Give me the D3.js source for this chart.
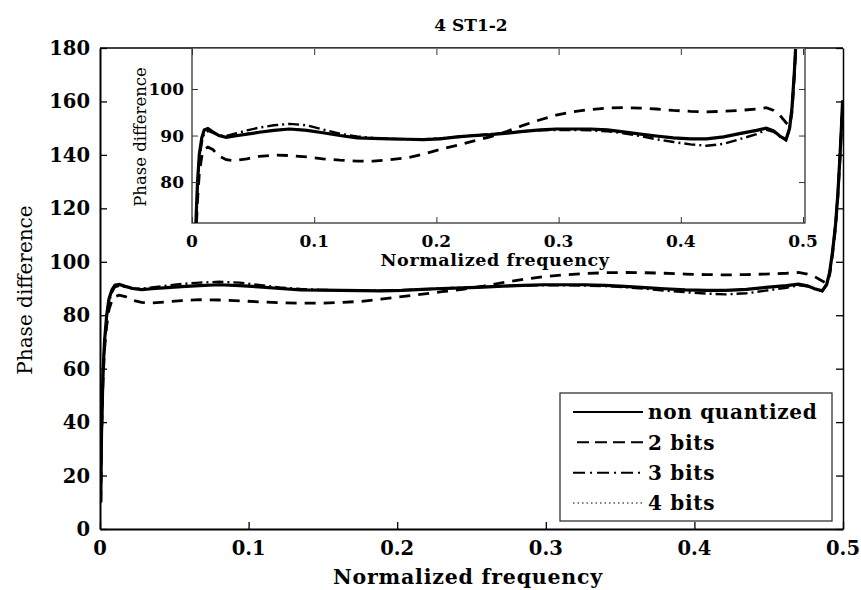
<!doctype html>
<head>
  <meta charset="utf-8">
  <title>4 ST1-2 phase difference</title>
  <script src="https://d3js.org/d3.v7.min.js"></script>
  <style>
    body { margin: 0; background: #fff; }
    text { font-family: "DejaVu Serif", serif; fill: #000; }
    .tick-label { font-weight: bold; }
  </style>
</head>
<body>
<div id="chart"></div>
<script>
// normalized frequency sample points
var freq = [0.0005, 0.001, 0.002, 0.003, 0.0045, 0.006, 0.008, 0.010, 0.013, 0.017,
  0.022, 0.028, 0.035, 0.045, 0.055, 0.067, 0.08, 0.094, 0.107, 0.121,
  0.135, 0.148, 0.162, 0.176, 0.189, 0.203, 0.217, 0.230, 0.244, 0.258,
  0.271, 0.285, 0.298, 0.312, 0.326, 0.340, 0.353, 0.367, 0.380, 0.394,
  0.408, 0.421, 0.435, 0.448, 0.462, 0.470, 0.476, 0.481, 0.486, 0.489,
  0.491, 0.493, 0.495, 0.4965, 0.498, 0.499, 0.4997];

var nonQuantized = [10, 35, 58, 70, 80, 86, 89.5, 91.2, 91.5, 90.8,
  90.0, 89.6, 89.9, 90.3, 90.7, 91.1, 91.4, 91.1, 90.6, 90.0,
  89.5, 89.4, 89.3, 89.2, 89.1, 89.3, 89.7, 90.0, 90.2, 90.5,
  90.9, 91.2, 91.4, 91.4, 91.4, 91.2, 90.8, 90.3, 89.9, 89.5,
  89.3, 89.3, 89.7, 90.4, 91.1, 91.6, 91.0, 89.9, 89.1, 91.5,
  96, 104, 114, 125, 140, 151, 160];

var bits2 = [10, 33, 55, 67, 76, 82, 85.5, 87.0, 87.5, 87.0,
  85.6, 84.8, 84.6, 85.0, 85.5, 85.8, 85.7, 85.4, 85.0, 84.7,
  84.5, 84.5, 84.8, 85.2, 86.0, 87.0, 87.9, 88.8, 89.7, 90.9,
  92.2, 93.4, 94.4, 95.1, 95.6, 95.9, 96.0, 95.9, 95.7, 95.4,
  95.2, 95.1, 95.2, 95.4, 95.7, 96.0, 95.4, 94.4, 92.8, 92.0,
  95, 103, 113, 124, 139, 150, 159];

var bits3 = [10, 34, 57, 69, 79, 85, 88.5, 90.5, 91.0, 90.6,
  90.0, 89.9, 90.4, 91.1, 91.7, 92.2, 92.5, 92.2, 91.3, 90.4,
  89.8, 89.5, 89.3, 89.2, 89.2, 89.4, 89.7, 90.0, 90.3, 90.6,
  90.9, 91.1, 91.2, 91.2, 91.1, 90.9, 90.5, 89.9, 89.2, 88.6,
  88.1, 87.8, 88.2, 89.2, 90.3, 91.2, 90.8, 89.8, 89.0, 91.3,
  95.8, 104, 114.5, 125.5, 140.5, 151.5, 160.5];

var bits4 = [11, 36, 59, 71, 80.5, 86.3, 89.7, 91.3, 91.4, 90.7,
  90.0, 89.7, 90.0, 90.4, 90.8, 91.2, 91.5, 91.2, 90.7, 90.1,
  89.6, 89.4, 89.3, 89.2, 89.2, 89.4, 89.7, 90.0, 90.3, 90.6,
  90.9, 91.2, 91.3, 91.4, 91.3, 91.1, 90.7, 90.2, 89.8, 89.4,
  89.2, 89.2, 89.6, 90.3, 91.0, 91.5, 91.0, 89.9, 89.2, 91.4,
  96.2, 104.3, 114.2, 125.2, 140.2, 151.2, 160.2];

var seriesNames = ["non quantized", "2 bits", "3 bits", "4 bits"];
var mainYTicks = [0, 20, 40, 60, 80, 100, 120, 140, 160, 180];
var mainXTicks = [0, 0.1, 0.2, 0.3, 0.4, 0.5];
var insetYTicks = [80, 90, 100];
var insetXTicks = [0, 0.1, 0.2, 0.3, 0.4, 0.5];

// line styles per series
var styles = [
  {w: 3.2, dash: null, lw: 2},
  {w: 2.8, dash: "11,8", lw: 2, ldash: "12,6"},
  {w: 2.4, dash: "11,4,2,4", lw: 2, ldash: "12,5,2,5"},
  {w: 1.6, dash: "1.5,2.5", lw: 1.2, ldash: "1.5,3"}
];

var series = [nonQuantized, bits2, bits3, bits4].map(function(vals, i) {
  return {name: seriesNames[i], values: vals.map(function(v, j) { return {f: freq[j], v: v}; })};
});

var W = 861, H = 590;
var svg = d3.select("#chart").append("svg").attr("width", W).attr("height", H);

// ---------- main axes ----------
var x = d3.scaleLinear().domain([0, 0.5]).range([100, 843]);
var y = d3.scaleLinear().domain([0, 180]).range([529, 48]);

svg.append("clipPath").attr("id", "mainClip").append("rect")
  .attr("x", 100).attr("y", 48).attr("width", 743).attr("height", 481);

var line = d3.line().x(function(d) { return x(d.f); }).y(function(d) { return y(d.v); });

var mainG = svg.append("g").attr("clip-path", "url(#mainClip)");
series.forEach(function(s, i) {
  mainG.append("path").datum(s.values)
    .attr("d", line)
    .attr("fill", "none")
    .attr("stroke", "#000")
    .attr("stroke-width", styles[i].w)
    .attr("stroke-dasharray", styles[i].dash);
});

// frame + inward ticks
svg.append("g").attr("transform", "translate(0,529)")
  .call(d3.axisBottom(x).tickValues(mainXTicks).tickSizeInner(-7).tickSizeOuter(0).tickFormat(""))
  .call(function(g) { g.select(".domain").attr("stroke-width", 2); g.selectAll("line").attr("stroke-width", 1.3); });
svg.append("g").attr("transform", "translate(100,0)")
  .call(d3.axisLeft(y).tickValues(mainYTicks).tickSizeInner(-7).tickSizeOuter(0).tickFormat(""))
  .call(function(g) { g.select(".domain").attr("stroke-width", 2); g.selectAll("line").attr("stroke-width", 1.3); });
svg.append("g").attr("transform", "translate(843,0)")
  .call(d3.axisRight(y).tickValues(mainYTicks).tickSizeInner(-7).tickSizeOuter(0).tickFormat(""))
  .call(function(g) { g.select(".domain").attr("stroke-width", 1.5); g.selectAll("line").attr("stroke-width", 1.3); });
svg.append("line").attr("x1", 100).attr("x2", 843).attr("y1", 48).attr("y2", 48)
  .attr("stroke", "#000").attr("stroke-width", 1.5);

svg.selectAll(".ylab").data(mainYTicks).enter().append("text")
  .attr("class", "tick-label")
  .attr("x", 90).attr("y", function(d) { return y(d); })
  .attr("dy", "0.36em").attr("text-anchor", "end")
  .style("font-size", "19.5px").text(function(d) { return d; });

svg.selectAll(".xlab").data(mainXTicks).enter().append("text")
  .attr("class", "tick-label")
  .attr("x", function(d) { return x(d); }).attr("y", 555)
  .attr("text-anchor", "middle")
  .style("font-size", "19.5px").text(function(d) { return d; });

svg.append("text").attr("x", 468).attr("y", 584).attr("text-anchor", "middle")
  .style("font-size", "20.5px").style("font-weight", "bold").style("letter-spacing", "0.8px")
  .text("Normalized frequency");

svg.append("text").attr("transform", "translate(32,290) rotate(-90)").attr("text-anchor", "middle")
  .style("font-size", "20px").text("Phase difference");

svg.append("text").attr("x", 471).attr("y", 31).attr("text-anchor", "middle")
  .style("font-size", "17px").style("font-weight", "bold").text("4 ST1-2");

// ---------- inset ----------
var xi = d3.scaleLinear().domain([0, 0.5]).range([192, 803]);
var yi = d3.scaleLinear().domain([71.2, 108.6]).range([223, 49]);

svg.append("rect").attr("x", 192).attr("y", 48).attr("width", 613).attr("height", 175)
  .attr("fill", "#fff").attr("stroke", "#333").attr("stroke-width", 1.3);

svg.append("clipPath").attr("id", "insetClip").append("rect")
  .attr("x", 192).attr("y", 49).attr("width", 613).attr("height", 174);

var lineI = d3.line().x(function(d) { return xi(d.f); }).y(function(d) { return yi(d.v); });
var insetG = svg.append("g").attr("clip-path", "url(#insetClip)");
series.forEach(function(s, i) {
  insetG.append("path").datum(s.values)
    .attr("d", lineI)
    .attr("fill", "none")
    .attr("stroke", "#000")
    .attr("stroke-width", styles[i].w)
    .attr("stroke-dasharray", styles[i].dash);
});

svg.append("g").attr("transform", "translate(0,223)")
  .call(d3.axisBottom(xi).tickValues(insetXTicks).tickSizeInner(-6).tickSizeOuter(0).tickFormat(""))
  .call(function(g) { g.select(".domain").remove(); g.selectAll("line").attr("stroke", "#333"); });
svg.append("g").attr("transform", "translate(0,49)")
  .call(d3.axisTop(xi).tickValues(insetXTicks).tickSizeInner(-6).tickSizeOuter(0).tickFormat(""))
  .call(function(g) { g.select(".domain").remove(); g.selectAll("line").attr("stroke", "#333"); });
svg.append("g").attr("transform", "translate(192,0)")
  .call(d3.axisLeft(yi).tickValues(insetYTicks).tickSizeInner(-6).tickSizeOuter(0).tickFormat(""))
  .call(function(g) { g.select(".domain").remove(); g.selectAll("line").attr("stroke", "#333"); });
svg.append("g").attr("transform", "translate(805,0)")
  .call(d3.axisRight(yi).tickValues(insetYTicks).tickSizeInner(-6).tickSizeOuter(0).tickFormat(""))
  .call(function(g) { g.select(".domain").remove(); g.selectAll("line").attr("stroke", "#333"); });

svg.selectAll(".iylab").data(insetYTicks).enter().append("text")
  .attr("class", "tick-label")
  .attr("x", 184).attr("y", function(d) { return yi(d); })
  .attr("dy", "0.36em").attr("text-anchor", "end")
  .style("font-size", "17px").text(function(d) { return d; });

svg.selectAll(".ixlab").data(insetXTicks).enter().append("text")
  .attr("class", "tick-label")
  .attr("x", function(d) { return xi(d); }).attr("y", 247)
  .attr("text-anchor", "middle")
  .style("font-size", "17px").text(function(d) { return d; });

svg.append("text").attr("x", 495).attr("y", 266).attr("text-anchor", "middle")
  .style("font-size", "17.5px").style("font-weight", "bold").style("letter-spacing", "0.6px")
  .text("Normalized frequency");

svg.append("text").attr("transform", "translate(146,137) rotate(-90)").attr("text-anchor", "middle")
  .style("font-size", "16.5px").text("Phase difference");

// ---------- legend ----------
var legend = svg.append("g");
legend.append("rect").attr("x", 560).attr("y", 393).attr("width", 272).attr("height", 128)
  .attr("fill", "#fff").attr("stroke", "#333").attr("stroke-width", 1.3);
var rowY = d3.scalePoint().domain(seriesNames).range([412, 503]);
seriesNames.forEach(function(name, i) {
  legend.append("line")
    .attr("x1", i == 1 ? 577 : 573).attr("x2", 643)
    .attr("y1", rowY(name)).attr("y2", rowY(name))
    .attr("stroke", "#000").attr("stroke-width", styles[i].lw)
    .attr("stroke-dasharray", styles[i].ldash || null);
  legend.append("text").attr("x", 648).attr("y", rowY(name)).attr("dy", "0.36em")
    .style("font-size", "20px").style("font-weight", "bold").style("letter-spacing", "0.7px")
    .text(name);
});
</script>
</body>
